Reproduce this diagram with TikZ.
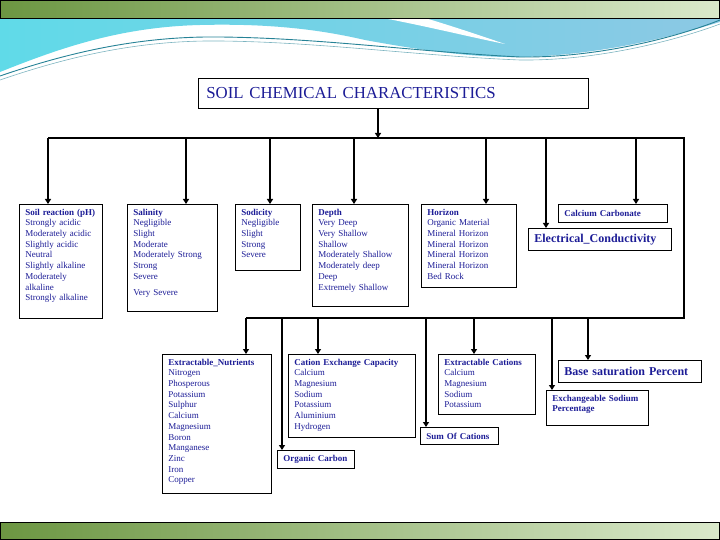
\documentclass[tikz,border=0pt]{standalone}
\usepackage{fontspec}
\setmainfont{Liberation Serif}
\usepackage{xcolor}
\usepackage{tikz}
\usetikzlibrary{arrows.meta,positioning}

\definecolor{navy}{RGB}{28,28,150}
\definecolor{barleft}{RGB}{108,150,66}
\definecolor{barright}{RGB}{218,233,203}
\definecolor{swoosh}{RGB}{96,218,232}
\definecolor{swooshr}{RGB}{140,200,228}
\definecolor{waveline}{RGB}{38,130,150}
\newcommand{\pad}[1]{\rule[-#1]{0pt}{#1}}

\begin{document}
\begin{tikzpicture}[
    x=1pt, y=-1pt,
    box/.style={draw, line width=0.8pt, anchor=north west, align=left, inner xsep=6pt, inner ysep=4.5pt, text=navy, font=\fontsize{9}{10.7}\selectfont},
    single/.style={box, font=\bfseries\fontsize{9}{10.7}\selectfont},
    big/.style={box, minimum height=22pt, font=\bfseries\fontsize{12}{14}\selectfont},
    bus/.style={line width=1.2pt},
    arr/.style={-{Triangle[length=5pt,width=6pt]}, line width=1.6pt}
]
    \useasboundingbox (0,0) rectangle (720,540);

    % Slide background
    \shade[left color=swoosh, right color=swooshr] (0,18) -- (0,72) .. controls (60,48) and (120,27) .. (200,25) .. controls (280,23) and (330,32) .. (365,40) .. controls (430,52) and (480,58) .. (525,57) .. controls (610,54) and (680,34) .. (720,22) -- (720,18) -- cycle;
    \fill[white] (383,18) .. controls (430,27) and (470,37) .. (505,44) .. controls (470,32) and (445,24) .. (425,18) -- cycle;
    \draw[waveline, line width=0.9pt] (0,76) .. controls (70,52) and (140,36) .. (220,37) .. controls (320,38) and (420,52) .. (520,57) .. controls (600,58) and (680,36) .. (720,20);
    \draw[waveline!60, line width=0.6pt] (0,80) .. controls (70,56) and (140,40) .. (220,41) .. controls (320,42) and (420,56) .. (520,60) .. controls (600,61) and (680,39) .. (720,24);
    \shade[left color=barleft, right color=barright] (0,0) rectangle (720,18);
    \draw[line width=0.8pt] (0.4,0.4) rectangle (719.6,18);
    \shade[left color=barleft, right color=barright] (0,522) rectangle (720,540);
    \draw[line width=0.8pt] (0.4,522) rectangle (719.6,539.6);

    % Title
    \node[box, text width=374pt, inner xsep=8pt, minimum height=30pt, font=\fontsize{16.8}{18}\selectfont] (title) at (198,78) {SOIL CHEMICAL CHARACTERISTICS};

    % Upper row
    \node[box, text width=71pt] (ph) at (19,204) {\textbf{Soil reaction (pH)}\\Strongly acidic\\Moderately acidic\\Slightly acidic\\Neutral\\Slightly alkaline\\Moderately\\alkaline\\Strongly alkaline\pad{13pt}};
    \node[box, text width=78pt] (sal) at (127,204) {\textbf{Salinity}\\Negligible\\Slight\\Moderate\\Moderately Strong\\Strong\\Severe\\[5.3pt]Very Severe\pad{12pt}};
    \node[box, text width=53pt] (sod) at (235,204) {\textbf{Sodicity}\\Negligible\\Slight\\Strong\\Severe\pad{8pt}};
    \node[box, text width=84pt] (dep) at (312,204) {\textbf{Depth}\\Very Deep\\Very Shallow\\Shallow\\Moderately Shallow\\Moderately deep\\Deep\\Extremely Shallow\pad{12pt}};
    \node[box, text width=83pt] (hor) at (421,204) {\textbf{Horizon}\\Organic Material\\Mineral Horizon\\Mineral Horizon\\Mineral Horizon\\Mineral Horizon\\Bed Rock\pad{4pt}};
    \node[single, text width=97pt, minimum height=18pt] (caco) at (558,204) {Calcium Carbonate};
    \node[big, text width=131pt] (ec) at (528,228) {Electrical\_Conductivity};

    % Lower row
    \node[box, text width=97pt] (nut) at (162,354) {\textbf{Extractable\_Nutrients}\\Nitrogen\\Phosperous\\Potassium\\Sulphur\\Calcium\\Magnesium\\Boron\\Manganese\\Zinc\\Iron\\Copper\pad{6pt}};
    \node[single, text width=65pt, minimum height=18pt] (oc) at (277,450) {Organic Carbon};
    \node[box, text width=115pt] (cec) at (288,354) {\textbf{Cation Exchange Capacity}\\Calcium\\Magnesium\\Sodium\\Potassium\\Aluminium\\Hydrogen\pad{4pt}};
    \node[single, text width=66pt, minimum height=17pt] (soc) at (420,427) {Sum Of Cations};
    \node[box, text width=85pt] (exc) at (438,354) {\textbf{Extractable Cations}\\Calcium\\Magnesium\\Sodium\\Potassium\pad{2pt}};
    \node[big, text width=131pt] (bsp) at (558,360) {Base saturation Percent};
    \node[single, text width=90pt] (esp) at (546,390) {Exchangeable Sodium\\Percentage\pad{9pt}};

    % Bus lines
    \coordinate (tin) at (378,138);
    \coordinate (tl) at (48,138);   \coordinate (tr) at (684,138);
    \coordinate (br) at (684,318);  \coordinate (bl) at (246,318);
    \draw[bus] (tl) -- (tr) -- (br) -- (bl);
    \draw[arr] (tin |- title.south) -- (tin);

    % Drops to the upper row
    \coordinate (tsal) at (186,138);  \coordinate (tsod) at (270,138);
    \coordinate (tdep) at (354,138);  \coordinate (thor) at (486,138);
    \coordinate (tec) at (546,138);   \coordinate (tcaco) at (636,138);
    \draw[arr] (tl) -- (tl |- ph.north);
    \draw[arr] (tsal) -- (tsal |- sal.north);
    \draw[arr] (tsod) -- (tsod |- sod.north);
    \draw[arr] (tdep) -- (tdep |- dep.north);
    \draw[arr] (thor) -- (thor |- hor.north);
    \draw[arr] (tec) -- (tec |- ec.north);
    \draw[arr] (tcaco) -- (tcaco |- caco.north);

    % Drops to the lower row
    \coordinate (boc) at (282,318);   \coordinate (bcec) at (318,318);
    \coordinate (bsoc) at (426,318);  \coordinate (bexc) at (474,318);
    \coordinate (besp) at (552,318);  \coordinate (bbsp) at (588,318);
    \draw[arr] (bl) -- (bl |- nut.north);
    \draw[arr] (boc) -- (boc |- oc.north);
    \draw[arr] (bcec) -- (bcec |- cec.north);
    \draw[arr] (bsoc) -- (bsoc |- soc.north);
    \draw[arr] (bexc) -- (bexc |- exc.north);
    \draw[arr] (besp) -- (besp |- esp.north);
    \draw[arr] (bbsp) -- (bbsp |- bsp.north);
\end{tikzpicture}
\end{document}
